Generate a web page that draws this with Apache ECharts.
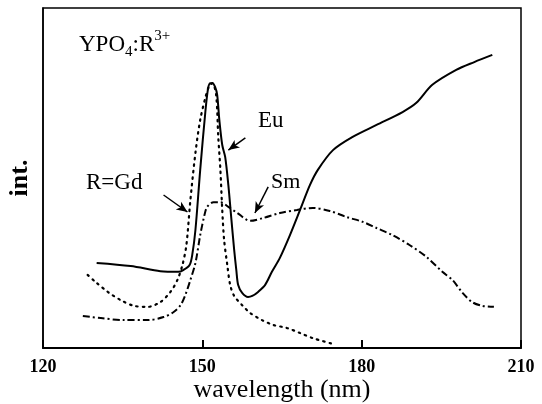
<!DOCTYPE html>
<html><head><meta charset="utf-8">
<script src="https://cdn.jsdelivr.net/npm/echarts/dist/echarts.min.js"></script>
<style>html,body{margin:0;padding:0;background:#fff}#c{width:542px;height:404px}</style>
</head><body><div id="c"></div>
<script>
// x-axis ticks (wavelength, nm)
const xTicks = [120, 150, 180, 210];

// R = Eu (solid)
const euX = [130.1,136.5,142.1,145.5,146.4,147.6,148.1,148.7,149.6,150.6,151.1,151.5,151.9,152.4,152.8,153.2,153.75,154.3,154.9,155.4,156.0,156.4,156.75,157.5,158.6,159.4,160.5,161.8,163.1,164.6,166.5,168.4,170.25,171.75,174.6,178.3,182.8,187.7,190.3,193.3,197.8,201.2,204.6];
const euY = [25.0,24.1,22.6,22.4,22.9,24.4,27.4,34.7,52.4,70.0,76.5,77.9,77.9,76.8,74.4,67.1,59.7,56.2,47.9,39.1,28.8,22.9,18.5,16.2,15.0,15.3,16.5,18.5,22.4,26.5,33.2,40.6,47.9,52.4,58.2,62.1,65.6,69.4,72.1,77.4,81.8,84.1,86.2];

// R = Gd (dotted)
const gdX = [128.4,129.9,132.2,134.6,137.1,139.7,142.1,144.0,145.3,146.25,147.0,147.75,148.7,149.6,150.6,151.3,151.9,152.6,153.0,153.4,153.75,154.1,154.7,155.25,156.0,157.5,159.0,161.25,163.3,165.9,168.4,170.8,174.6];
const gdY = [21.5,19.4,16.5,14.1,12.4,12.1,13.5,16.5,20.0,24.4,30.3,43.5,57.4,67.1,73.8,77.1,77.9,74.4,62.1,52.4,40.6,31.8,24.4,18.5,15.3,12.6,10.3,8.2,6.8,5.9,4.4,2.9,1.2];

// R = Sm (dash-dot)
const smX = [127.5,130.9,135.2,139.7,142.7,144.6,145.9,146.8,147.75,148.7,149.6,150.4,150.9,152.1,153.4,154.9,156.6,159.0,161.4,164.6,167.8,170.8,174.0,177.2,180.2,182.8,185.8,189.0,192.2,195.2,197.1,199.0,200.8,202.7,204.9];
const smY = [9.4,8.8,8.2,8.2,9.1,10.6,12.6,15.6,20.0,25.0,33.2,39.1,41.5,42.9,42.9,41.5,39.7,37.4,38.2,39.7,40.6,41.2,40.3,38.5,37.1,35.3,33.2,30.3,26.8,22.4,20.0,16.2,13.5,12.4,12.1];

// annotation arrows (data coords): start -> end
const arrowFromX = [158.1, 162.4, 142.7];
const arrowFromY = [61.8, 47.4, 45.0];
const arrowToX = [154.9, 159.9, 147.2];
const arrowToY = [58.2, 39.7, 40.0];

const pair = (xs, ys) => xs.map((x, i) => [x, ys[i]]);
const serif = '"Liberation Serif","DejaVu Serif",serif';

const chart = echarts.init(document.getElementById('c'), null, {renderer: 'canvas'});
const arrows = arrowFromX.map((x, i) => [
  {coord: [x, arrowFromY[i]]},
  {coord: [arrowToX[i], arrowToY[i]]}
]);

chart.setOption({
  animation: false,
  grid: {left: 43, right: 21, top: 8, bottom: 56, containLabel: false, outerBoundsMode: 'none',
         show: true, borderColor: '#000', borderWidth: 1.5, backgroundColor: 'transparent'},
  xAxis: {
    type: 'value', min: xTicks[0], max: xTicks[xTicks.length - 1], interval: xTicks[1] - xTicks[0],
    axisLine: {show: true, lineStyle: {color: '#000', width: 2}},
    axisTick: {show: true, inside: true, length: 8, lineStyle: {color: '#000', width: 2}},
    splitLine: {show: false},
    axisLabel: {color: '#000', fontFamily: serif, fontSize: 18, fontWeight: 'bold', margin: 10},
    name: 'wavelength (nm)', nameLocation: 'middle', nameGap: 29, nameMoveOverlap: false,
    nameTextStyle: {color: '#000', fontFamily: serif, fontSize: 26, verticalAlign: 'top'}
  },
  yAxis: {
    type: 'value', min: 0, max: 100,
    axisLine: {show: true, lineStyle: {color: '#000', width: 1.5}},
    axisTick: {show: false}, axisLabel: {show: false}, splitLine: {show: false},
    name: 'int.', nameLocation: 'middle', nameGap: 10,
    nameTextStyle: {color: '#000', fontFamily: serif, fontSize: 26, fontWeight: 'bold'}
  },
  series: [
    {type: 'line', name: 'Eu', data: pair(euX, euY), symbol: 'none', smooth: 0.3,
     lineStyle: {color: '#000', width: 2},
     markLine: {silent: true, symbol: ['none', 'arrow'], symbolSize: [7, 11],
       lineStyle: {type: 'solid', color: '#000', width: 1.5}, label: {show: false},
       emphasis: {disabled: true}, data: arrows}},
    {type: 'line', name: 'Gd', data: pair(gdX, gdY), symbol: 'none', smooth: 0.3,
     lineStyle: {color: '#000', width: 2.2, type: [1.5, 5], cap: 'round'}},
    {type: 'line', name: 'Sm', data: pair(smX, smY), symbol: 'none', smooth: 0.3,
     lineStyle: {color: '#000', width: 2, type: [7, 3, 2, 3]}}
  ],
  graphic: [
    {type: 'text', left: 79, top: 29, style: {
      text: '{a|YPO}{sub|4}{a|:R}{sup|3+}', fill: '#000', font: '23px ' + serif,
      rich: {
        a: {fontFamily: serif, fontSize: 23, lineHeight: 31, verticalAlign: 'middle'},
        sub: {fontFamily: serif, fontSize: 15, lineHeight: 31, verticalAlign: 'bottom'},
        sup: {fontFamily: serif, fontSize: 15, lineHeight: 31, verticalAlign: 'top'}
      }}},
    {type: 'text', left: 258, top: 109, style: {text: 'Eu', fill: '#000', font: '23px ' + serif}},
    {type: 'text', left: 271, top: 171, style: {text: 'Sm', fill: '#000', font: '22px ' + serif}},
    {type: 'text', left: 86, top: 171, style: {text: 'R=Gd', fill: '#000', font: '23px ' + serif}}
  ]
});
</script>
</body></html>
